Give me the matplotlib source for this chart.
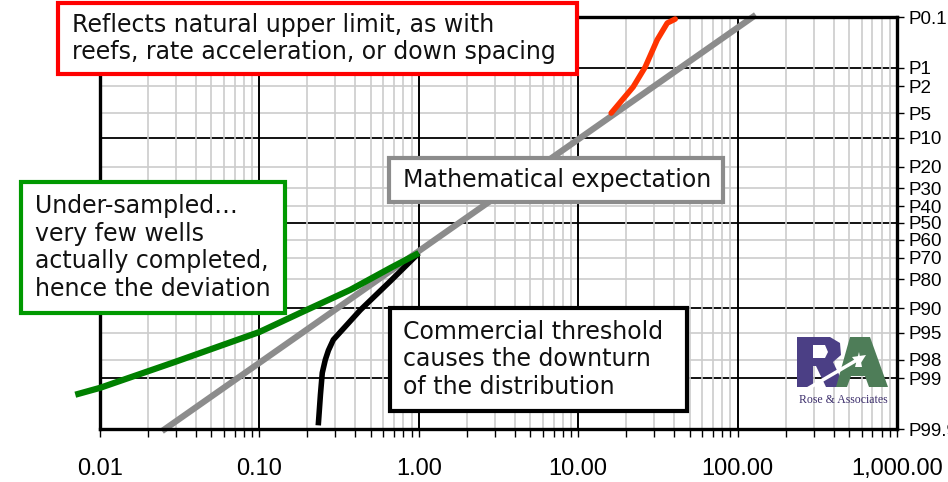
import numpy as np
import matplotlib
matplotlib.use("Agg")
import matplotlib.pyplot as plt
from matplotlib.patches import Rectangle, Polygon
from matplotlib.ticker import FixedLocator, NullFormatter, NullLocator, LogLocator
from statistics import NormalDist

# ---- data (x value, exceedance percentile) ----
x_expect = [0.0245, 130.0]
p_expect = [99.91, 0.09]

x_green = [0.0070, 0.010, 0.0296, 0.10, 0.181, 0.372, 0.664, 1.0]
p_green = [99.50, 99.33, 98.14, 94.9, 91.1, 84.2, 75.0, 67.4]

x_black = [1.0, 0.664, 0.430, 0.322, 0.291, 0.271, 0.259, 0.248, 0.2415, 0.234]
p_black = [67.4, 80.8, 90.4, 94.9, 96.0, 97.2, 98.0, 98.77, 99.50, 99.88]

x_red = [16.1, 22.1, 26.3, 31.3, 36.2, 40.6]
p_red = [4.96, 2.07, 0.97, 0.30, 0.135, 0.111]

p_ticks = [0.1, 1, 2, 5, 10, 20, 30, 40, 50, 60, 70, 80, 90, 95, 98, 99, 99.9]
p_labels = ["P0.1", "P1", "P2", "P5", "P10", "P20", "P30", "P40", "P50",
            "P60", "P70", "P80", "P90", "P95", "P98", "P99", "P99.9"]
p_dark = [1, 10, 50, 90, 99]
x_ticks = [0.01, 0.1, 1, 10, 100, 1000]
x_labels = ["0.01", "0.10", "1.00", "10.00", "100.00", "1,000.00"]

W, H = 948, 482
_nd = NormalDist()


def fwd(p):
    p = np.clip(np.asarray(p, dtype=float), 1e-7, 100 - 1e-7)
    return np.vectorize(_nd.inv_cdf, otypes=[float])(p / 100.0)


def inv(z):
    z = np.asarray(z, dtype=float)
    return np.vectorize(_nd.cdf, otypes=[float])(z) * 100.0


def fx(px):
    return px / W


def fy(py):
    return 1 - py / H


fig = plt.figure(figsize=(W / 100, H / 100), dpi=100)
ax = fig.add_axes([fx(100), fy(429), (897 - 100) / W, (429 - 17) / H])
ax.set_xscale("log")
ax.set_yscale("function", functions=(fwd, inv))
ax.set_xlim(0.01, 1000)
ax.set_ylim(99.9, 0.1)

# grid
ax.xaxis.set_major_locator(FixedLocator(x_ticks))
ax.xaxis.set_minor_locator(LogLocator(base=10, subs=np.arange(2, 10)))
ax.xaxis.set_minor_formatter(NullFormatter())
ax.set_xticklabels(x_labels)
ax.grid(which="major", axis="x", color="black", lw=1.4, zorder=0)
ax.grid(which="minor", axis="x", color="#cccccc", lw=1.2, zorder=0)
for p in p_ticks[1:-1]:
    if p in p_dark:
        ax.axhline(p, color="black", lw=1.3, zorder=0.5)
    else:
        ax.axhline(p, color="#cccccc", lw=1.2, zorder=0.4)

ax.yaxis.set_major_locator(FixedLocator(p_ticks))
ax.yaxis.set_minor_locator(NullLocator())
ax.set_yticklabels(p_labels)
ax.yaxis.tick_right()
ax.tick_params(axis="y", which="both", direction="out", length=5, width=1,
               pad=3, labelsize=13.5, colors="black")
ax.tick_params(axis="x", which="both", direction="out", length=6, width=1,
               pad=15, labelsize=17)
for lab in ax.get_xticklabels() + ax.get_yticklabels():
    lab.set_family("Liberation Sans")

for s in ax.spines.values():
    s.set_linewidth(2.4)
    s.set_color("black")

# series
ax.plot(x_expect, p_expect, color="#8c8c8c", lw=4.5, solid_capstyle="butt",
        clip_on=False, zorder=2)
ax.plot(x_black, p_black, color="black", lw=4.0, solid_capstyle="butt",
        solid_joinstyle="round", clip_on=False, zorder=3)
ax.plot(x_green, p_green, color="#008000", lw=4.5, solid_capstyle="butt",
        solid_joinstyle="round", clip_on=False, zorder=4)
ax.plot(x_red, p_red, color="#ff3300", lw=4.0, solid_capstyle="round",
        solid_joinstyle="round", clip_on=False, zorder=4)


# callout boxes (pixel coordinates of the picture)
def callout(x0, y0, x1, y1, edge, text, tx):
    fig.add_artist(Rectangle((fx(x0), fy(y1)), fx(x1) - fx(x0), fy(y0) - fy(y1),
                             transform=fig.transFigure, facecolor="white",
                             edgecolor=edge, lw=3, zorder=5))
    fig.text(fx(tx), fy((y0 + y1) / 2), text, ha="left", va="center",
             fontsize=17, family="DejaVu Sans", color="#111111",
             linespacing=1.2, zorder=6)


callout(58, 3, 577, 74, "#ff0000",
        "Reflects natural upper limit, as with\nreefs, rate acceleration, or down spacing", 72)
callout(389, 158, 723, 202, "#8c8c8c", "Mathematical expectation", 403)
callout(21, 182, 285, 313, "#009900",
        "Under-sampled\u2026\nvery few wells\nactually completed,\nhence the deviation", 35)
callout(390, 308, 687, 411, "black",
        "Commercial threshold\ncauses the downturn\nof the distribution", 403)

# logo
def poly(pts, color, z=7):
    fig.add_artist(Polygon([(fx(a), fy(b)) for a, b in pts], closed=True,
                           transform=fig.transFigure, facecolor=color,
                           edgecolor="none", zorder=z))


poly([(797, 337), (830, 337), (840, 343), (841, 355), (833, 362), (845, 387),
      (826, 387), (816, 366), (813, 366), (813, 387), (797, 387)], "#4b3f85")
poly([(813, 345), (825, 345), (828, 352), (825, 358), (813, 358)], "white", 8)
poly([(850, 337), (870, 337), (888, 387), (869, 387), (865, 376), (851, 376),
      (847, 387), (836, 387)], "#4e7d58")
poly([(855, 367), (862, 367), (859, 352)], "white", 8)
fig.add_artist(plt.Line2D([fx(802), fx(857)], [fy(392), fy(360)],
                          transform=fig.transFigure, color="white", lw=2.5, zorder=9))
poly([(866, 355), (852, 357), (859, 366)], "white", 9)
fig.text(fx(843), fy(400), "Rose & Associates", ha="center", va="center",
         fontsize=8.5, family="Liberation Serif", color="#3b2d6b", zorder=9)

fig.savefig("out.png", dpi=100, facecolor="white")
